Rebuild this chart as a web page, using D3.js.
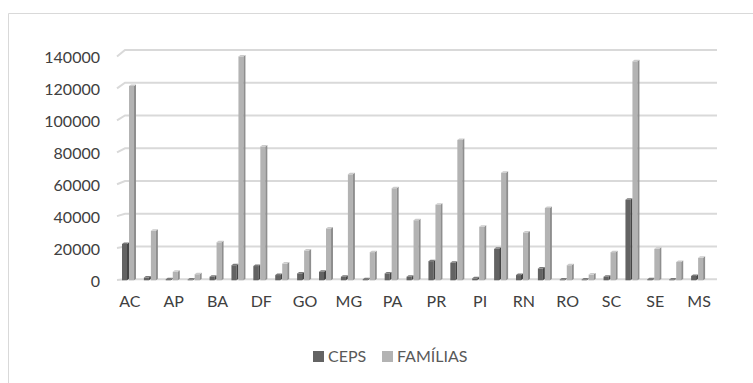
<!DOCTYPE html>
<html>
<head>
<meta charset="utf-8">
<script src="https://cdn.jsdelivr.net/npm/d3@7/dist/d3.min.js"></script>
<style>
  html, body { margin: 0; padding: 0; background: #fff; }
  svg { display: block; font-family: Lato, "Open Sans", sans-serif; }
</style>
</head>
<body>
<svg id="chart" width="753" height="383"></svg>
<script>
// States (every other label is shown on the axis)
const categories = ["AC","AL","AP","AM","BA","CE","DF","ES","GO","MA","MG","MT","PA","PB","PR","PE","PI","RJ","RN","RS","RO","RR","SC","SP","SE","TO","MS"];
const ceps = [22500, 2000, 1000, 800, 2500, 9500, 9000, 3500, 4500, 5500, 2500, 1000, 4500, 2500, 12000, 11000, 1500, 19500, 3500, 7500, 800, 800, 2500, 49500, 1000, 800, 3000];
const familias = [119000, 30500, 5500, 4000, 23500, 137000, 82000, 10500, 18500, 32000, 65000, 17500, 56500, 37000, 46500, 86000, 33000, 66000, 29500, 44500, 9500, 3800, 17500, 134000, 19500, 11500, 14000];
const seriesNames = ["CEPS", "FAMÍLIAS"];
const yTicks = [0, 20000, 40000, 60000, 80000, 100000, 120000, 140000];

const svg = d3.select("#chart");

// chart frame
svg.append("path")
  .attr("d", "M8.5,383 L8.5,13.5 L753,13.5")
  .attr("fill", "none").attr("stroke", "#d9d9d9").attr("stroke-width", 1);

const styles = [
  { front: "#636363", side: "#454545", cap: "#7a7a7a", legend: "#636363" },
  { front: "#b3b3b3", side: "#8e8e8e", cap: "#cbcbcb", legend: "#b3b3b3" }
];

// back wall (gridlines) and front plane (labels) scales
const yBack = d3.scaleLinear().domain([0, 140000]).range([279.3, 50]);
const yFront = d3.scaleLinear().domain([0, 140000]).range([281, 57.5]);
const wallX0 = 117, wallX1 = 125, wallRight = 717;

const x0 = d3.scaleBand().domain(categories).range([118, 709]).paddingInner(0);
const x1 = d3.scaleBand().domain(seriesNames).range([4, 18]).padding(0);

// gridlines with perspective step at the left wall
svg.append("g").selectAll("path").data(yTicks).join("path")
  .attr("d", v => `M${wallX0},${yFront(v) - 1} L${wallX1},${yBack(v)} L${wallRight},${yBack(v)}`)
  .attr("fill", "none").attr("stroke", "#d9d9d9").attr("stroke-width", 2);

// y labels
const yAxis = d3.axisLeft(yFront).tickValues(yTicks).tickSize(0).tickPadding(0).tickFormat(d3.format("d"));
const gy = svg.append("g").attr("transform", "translate(100,0)").call(yAxis);
gy.select(".domain").remove();
gy.selectAll("text").attr("font-size", 16).attr("fill", "#404040")
  .attr("font-family", "Lato, 'Open Sans', sans-serif");

// x labels
const xAxis = d3.axisBottom(x0).tickValues(categories.filter((d, i) => i % 2 === 0)).tickSize(0).tickPadding(0);
const gx = svg.append("g").attr("transform", "translate(1,296)").call(xAxis);
gx.select(".domain").remove();
gx.selectAll("text").attr("font-size", 16).attr("fill", "#404040")
  .attr("font-family", "Lato, 'Open Sans', sans-serif");

// bars with a simple extruded look: front face, darker right side, light top cap
const rows = categories.map((c, i) => ({ cat: c, vals: [ceps[i], familias[i]] }));
const depthX = 2, depthY = 1.5;
const groups = svg.append("g").selectAll("g").data(rows).join("g")
  .attr("transform", d => `translate(${x0(d.cat)},0)`);

groups.each(function(d) {
  const g = d3.select(this);
  d.vals.forEach((v, si) => {
    const s = styles[si];
    const bx = x1(seriesNames[si]);
    const fw = x1.bandwidth() - depthX;
    const top = yBack(v) + depthY;
    const base = yBack(0) + 1;
    g.append("rect").attr("x", bx).attr("y", top).attr("width", fw).attr("height", Math.max(0, base - top))
      .attr("fill", s.front);
    g.append("path")
      .attr("d", `M${bx + fw},${top} L${bx + fw + depthX},${top - depthY} L${bx + fw + depthX},${base - depthY} L${bx + fw},${base} Z`)
      .attr("fill", s.side);
    g.append("path")
      .attr("d", `M${bx},${top} L${bx + depthX},${top - depthY} L${bx + fw + depthX},${top - depthY} L${bx + fw},${top} Z`)
      .attr("fill", s.cap);
  });
});

// legend
const legend = svg.append("g");
const legendItems = [{ name: "CEPS", x: 313 }, { name: "FAMÍLIAS", x: 382 }];
legendItems.forEach((it, i) => {
  legend.append("rect").attr("x", it.x).attr("y", 351).attr("width", 11).attr("height", 11)
    .attr("fill", styles[i].legend);
  legend.append("text").attr("x", it.x + 15).attr("y", 362)
    .attr("font-size", 16).attr("fill", "#595959").text(it.name);
});
</script>
</body>
</html>
